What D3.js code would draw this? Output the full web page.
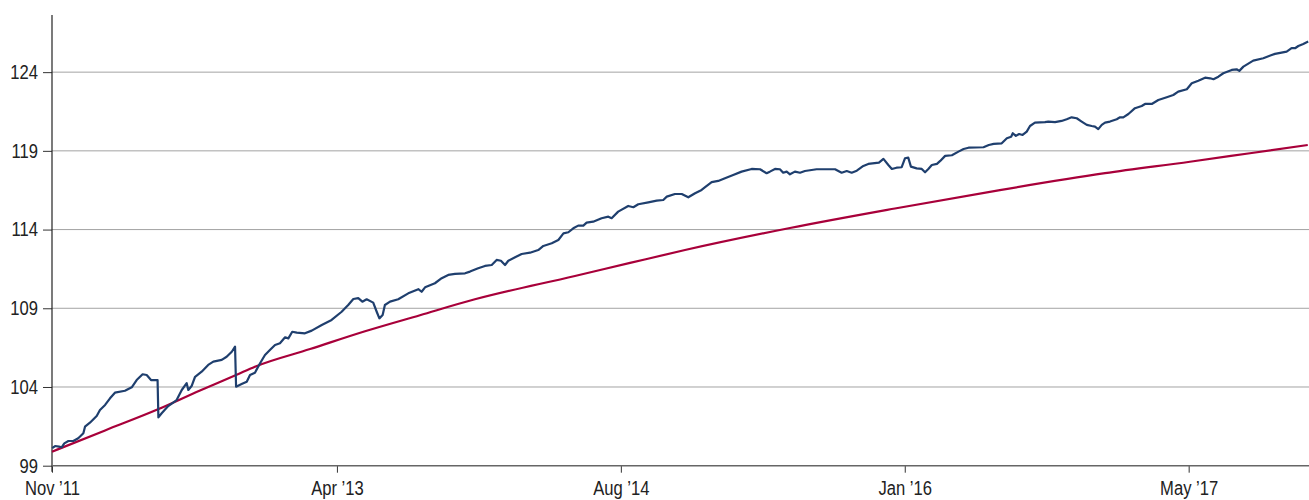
<!DOCTYPE html>
<html>
<head>
<meta charset="utf-8">
<script src="https://cdn.jsdelivr.net/npm/d3@7"></script>
<style>
  body { margin: 0; background: #fff; }
  .tick-label { font-family: "Liberation Sans Narrow", "Liberation Sans", sans-serif; font-size: 20px; fill: #222; }
</style>
</head>
<body>
<script>
var width = 1309,
    height = 500,
    margin = {top: 15, right: 0, bottom: 34.3, left: 52};

// y ticks
var yTicks = [99, 104, 109, 114, 119, 124];

// x ticks (decimal years) and their labels
var xTicks = [2011.86, 2013.25, 2014.635, 2016.02, 2017.405];
var xTickLabels = ["Nov \u201911", "Apr \u201913", "Aug \u201914", "Jan \u201916", "May \u201917"];

// blue series [decimal year, value]
var blueSeries = [
  [2011.861,100.11],[2011.875,100.25],[2011.894,100.21],[2011.907,100.17],[2011.92,100.42],
  [2011.94,100.57],[2011.964,100.57],[2011.988,100.74],[2012.013,101.06],[2012.021,101.48],
  [2012.045,101.73],[2012.078,102.16],[2012.094,102.54],[2012.119,102.86],[2012.143,103.28],
  [2012.167,103.64],[2012.216,103.76],[2012.249,103.98],[2012.273,104.44],[2012.302,104.81],
  [2012.322,104.76],[2012.343,104.44],[2012.375,104.44],[2012.379,102.07],[2012.395,102.33],
  [2012.427,102.79],[2012.468,103.17],[2012.493,103.81],[2012.517,104.24],[2012.525,103.81],
  [2012.541,104.06],[2012.558,104.65],[2012.59,104.97],[2012.622,105.40],[2012.647,105.61],
  [2012.688,105.72],[2012.712,105.92],[2012.737,106.24],[2012.753,106.56],[2012.758,104.02],
  [2012.785,104.19],[2012.81,104.34],[2012.826,104.76],[2012.85,104.91],[2012.875,105.51],
  [2012.899,106.03],[2012.923,106.35],[2012.948,106.67],[2012.972,106.78],[2012.997,107.16],
  [2013.013,107.09],[2013.032,107.51],[2013.054,107.45],[2013.094,107.41],[2013.127,107.58],
  [2013.176,107.94],[2013.224,108.26],[2013.273,108.78],[2013.305,109.21],[2013.33,109.59],
  [2013.354,109.64],[2013.374,109.42],[2013.395,109.57],[2013.427,109.36],[2013.444,108.78],
  [2013.457,108.36],[2013.473,108.57],[2013.484,109.21],[2013.509,109.42],[2013.549,109.57],
  [2013.598,109.95],[2013.647,110.21],[2013.663,110.05],[2013.68,110.33],[2013.728,110.59],
  [2013.761,110.91],[2013.793,111.12],[2013.826,111.18],[2013.875,111.22],[2013.899,111.33],
  [2013.939,111.54],[2013.972,111.69],[2014.005,111.75],[2014.029,112.07],[2014.05,112.02],
  [2014.07,111.75],[2014.086,112.02],[2014.119,112.24],[2014.151,112.45],[2014.192,112.53],
  [2014.232,112.70],[2014.257,112.96],[2014.298,113.13],[2014.33,113.34],[2014.355,113.76],
  [2014.379,113.83],[2014.403,114.08],[2014.427,114.25],[2014.452,114.25],[2014.468,114.44],
  [2014.5,114.50],[2014.541,114.72],[2014.574,114.82],[2014.59,114.72],[2014.622,115.14],
  [2014.671,115.50],[2014.696,115.42],[2014.72,115.61],[2014.769,115.73],[2014.81,115.84],
  [2014.842,115.88],[2014.859,116.09],[2014.899,116.26],[2014.932,116.26],[2014.964,116.05],
  [2014.997,116.31],[2015.029,116.52],[2015.046,116.69],[2015.078,117.01],[2015.11,117.09],
  [2015.143,117.26],[2015.183,117.47],[2015.224,117.68],[2015.273,117.85],[2015.314,117.83],
  [2015.346,117.58],[2015.362,117.68],[2015.387,117.85],[2015.411,117.83],[2015.427,117.61],
  [2015.444,117.68],[2015.46,117.51],[2015.484,117.68],[2015.509,117.61],[2015.533,117.72],
  [2015.59,117.83],[2015.68,117.83],[2015.712,117.61],[2015.737,117.72],[2015.761,117.61],
  [2015.786,117.74],[2015.818,118.04],[2015.842,118.17],[2015.894,118.25],[2015.916,118.49],
  [2015.94,118.10],[2015.957,117.85],[2015.98,117.93],[2016.005,117.96],[2016.021,118.53],
  [2016.037,118.57],[2016.05,118.00],[2016.078,117.89],[2016.103,117.85],[2016.119,117.64],
  [2016.135,117.85],[2016.152,118.10],[2016.177,118.17],[2016.193,118.36],[2016.217,118.68],
  [2016.25,118.72],[2016.282,118.95],[2016.307,119.12],[2016.331,119.20],[2016.404,119.23],
  [2016.43,119.37],[2016.454,119.44],[2016.493,119.48],[2016.518,119.80],[2016.539,119.90],
  [2016.547,120.12],[2016.562,119.95],[2016.578,120.07],[2016.595,120.01],[2016.615,120.22],
  [2016.631,120.58],[2016.655,120.79],[2016.704,120.82],[2016.72,120.86],[2016.753,120.82],
  [2016.785,120.90],[2016.81,121.01],[2016.834,121.13],[2016.859,121.07],[2016.883,120.86],
  [2016.908,120.65],[2016.932,120.58],[2016.948,120.54],[2016.964,120.38],[2016.981,120.65],
  [2016.997,120.79],[2017.021,120.86],[2017.054,121.01],[2017.07,121.13],[2017.086,121.13],
  [2017.111,121.34],[2017.143,121.71],[2017.176,121.85],[2017.192,121.98],[2017.225,121.98],
  [2017.257,122.23],[2017.298,122.41],[2017.33,122.55],[2017.354,122.76],[2017.396,122.91],
  [2017.42,123.29],[2017.452,123.46],[2017.485,123.65],[2017.51,123.61],[2017.526,123.55],
  [2017.55,123.71],[2017.574,123.93],[2017.615,124.14],[2017.639,124.18],[2017.652,124.08],
  [2017.672,124.35],[2017.72,124.73],[2017.769,124.88],[2017.81,125.09],[2017.826,125.16],
  [2017.858,125.24],[2017.883,125.30],[2017.907,125.52],[2017.924,125.52],[2017.94,125.66],
  [2017.964,125.79],[2017.988,125.94]
];

// red series [decimal year, value]
var redSeries = [
  [2011.86,99.89],[2012.119,101.24],[2012.377,102.58],[2012.582,103.78],[2012.758,104.76],
  [2012.85,105.29],[2013.119,106.41],[2013.387,107.54],[2013.655,108.56],[2013.923,109.57],
  [2014.411,111.05],[2014.68,111.88],[2014.948,112.70],[2015.46,114.10],[2015.972,115.34],
  [2016.484,116.51],[2016.997,117.58],[2017.411,118.31],[2017.704,118.85],[2017.986,119.37]
];

var svg = d3.select("body").append("svg")
    .attr("width", width)
    .attr("height", height);

var x = d3.scaleLinear()
    .domain([2011.86, 2017.992])
    .range([margin.left, width - margin.right]);

var y = d3.scaleLinear()
    .domain([99, 127.63])
    .range([height - margin.bottom, margin.top]);

// squeeze labels to look like the condensed face of the original
function condense(sel) {
  sel.attr("class", "tick-label")
    .attr("font-size", null)
    .attr("font-family", null)
    .each(function() {
      var w = this.getComputedTextLength();
      d3.select(this)
        .attr("textLength", w * 0.83)
        .attr("lengthAdjust", "spacingAndGlyphs");
    });
}

// gridlines
svg.append("g")
    .selectAll("line")
    .data(yTicks.slice(1))
    .enter()
    .append("line")
    .attr("x1", margin.left)
    .attr("x2", width - margin.right)
    .attr("y1", function(d) { return y(d); })
    .attr("y2", function(d) { return y(d); })
    .attr("stroke", "#a3a3a3")
    .attr("stroke-width", 1);

// y axis
var yAxis = svg.append("g")
    .attr("transform", "translate(" + margin.left + ",0)")
    .call(d3.axisLeft(y).tickValues(yTicks).tickSize(9).tickPadding(5).tickFormat(d3.format("d")));
yAxis.select(".domain").remove();
yAxis.selectAll(".tick line").attr("stroke", "#333");
yAxis.selectAll(".tick text").call(condense);

svg.append("line")
    .attr("x1", margin.left).attr("x2", margin.left)
    .attr("y1", margin.top).attr("y2", y(99) + 6)
    .attr("stroke", "#222")
    .attr("stroke-width", 1.2);

// x axis
var xAxis = svg.append("g")
    .attr("transform", "translate(0," + y(99) + ")")
    .call(d3.axisBottom(x).tickValues(xTicks).tickSize(7).tickPadding(8)
      .tickFormat(function(d, i) { return xTickLabels[i]; }));
xAxis.select(".domain").remove();
xAxis.selectAll(".tick line").attr("stroke", "#333");
xAxis.selectAll(".tick text").call(condense);

svg.append("line")
    .attr("x1", margin.left).attr("x2", width - margin.right)
    .attr("y1", y(99)).attr("y2", y(99))
    .attr("stroke", "#666")
    .attr("stroke-width", 1.6);

// lines
var line = d3.line()
    .x(function(d) { return x(d[0]); })
    .y(function(d) { return y(d[1]); });

svg.append("path")
    .datum(redSeries)
    .attr("fill", "none")
    .attr("stroke", "#a8003a")
    .attr("stroke-width", 2.2)
    .attr("d", line.curve(d3.curveMonotoneX));

svg.append("path")
    .datum(blueSeries)
    .attr("fill", "none")
    .attr("stroke", "#1f3f6e")
    .attr("stroke-width", 2.2)
    .attr("stroke-linejoin", "round")
    .attr("d", line.curve(d3.curveLinear));
</script>
</body>
</html>
